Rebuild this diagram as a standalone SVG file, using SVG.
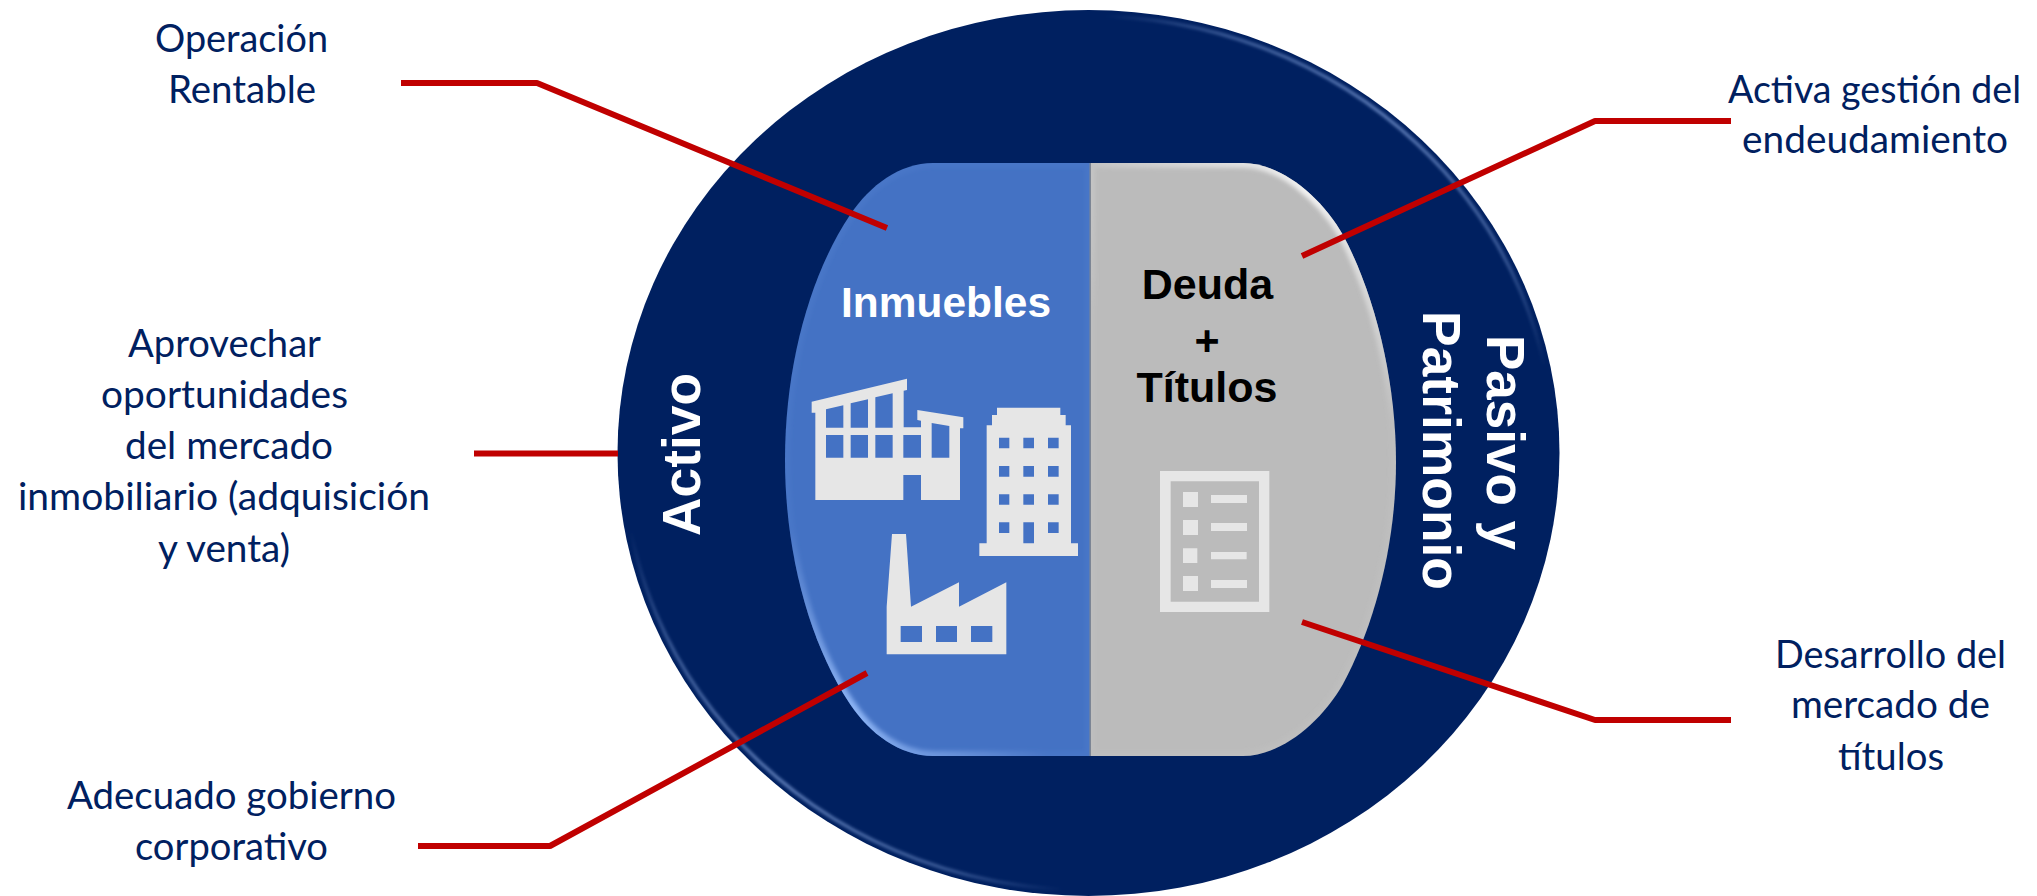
<svg xmlns="http://www.w3.org/2000/svg" width="2037" height="896" viewBox="0 0 2037 896">
<style>
.lb{font-family:"Lato","Open Sans",sans-serif;font-size:39.5px;fill:#002060}
.bd{font-family:"Liberation Sans",Arial,sans-serif;font-weight:bold}
.cn{fill:none;stroke:#C00000;stroke-width:6;stroke-linejoin:bevel}
.ic{fill:#E6E6E6;fill-rule:evenodd}
</style>
<defs>
<filter id="b2" x="-10%" y="-10%" width="120%" height="120%"><feGaussianBlur stdDeviation="2"/></filter>
<filter id="b1" x="-10%" y="-10%" width="120%" height="120%"><feGaussianBlur stdDeviation="1.6"/></filter>
<radialGradient id="rimTR" gradientUnits="userSpaceOnUse" cx="1390" cy="110" r="300"><stop offset="0" stop-color="#5E7DB8" stop-opacity=".95"/><stop offset=".6" stop-color="#5E7DB8" stop-opacity=".6"/><stop offset="1" stop-color="#5E7DB8" stop-opacity="0"/></radialGradient>
<radialGradient id="rimBL" gradientUnits="userSpaceOnUse" cx="780" cy="790" r="300"><stop offset="0" stop-color="#5E7DB8" stop-opacity=".95"/><stop offset=".6" stop-color="#5E7DB8" stop-opacity=".6"/><stop offset="1" stop-color="#5E7DB8" stop-opacity="0"/></radialGradient>
<radialGradient id="blueHi" gradientUnits="userSpaceOnUse" cx="862" cy="705" r="190"><stop offset="0" stop-color="#8FB6F6"/><stop offset=".5" stop-color="#7FA6E8" stop-opacity=".65"/><stop offset="1" stop-color="#7FA6E8" stop-opacity=".08"/></radialGradient>
<radialGradient id="grayHi" gradientUnits="userSpaceOnUse" cx="1305" cy="195" r="240"><stop offset="0" stop-color="#F2F2F2"/><stop offset=".6" stop-color="#DDDDDD" stop-opacity=".7"/><stop offset="1" stop-color="#DDDDDD" stop-opacity=".1"/></radialGradient>
<clipPath id="ce"><ellipse cx="1088.5" cy="453" rx="471" ry="443"/></clipPath>
<clipPath id="cb"><path d="M1090 163H933C900 163 870 185 850 215C810 275 785 365 785 460C785 554 810 644 850 704C870 734 900 756 933 756H1090Z"/></clipPath>
<clipPath id="cg"><path d="M1090 163H1243C1280 163 1320 195 1343 235C1375 295 1396 380 1396 462C1396 544 1375 624 1343 684C1320 724 1280 756 1243 756H1090Z"/></clipPath>
</defs>
<rect width="2037" height="896" fill="#FFFFFF"/>
<g id="outer-circle">
<ellipse cx="1088.5" cy="453" rx="471" ry="443" fill="#002060"/>
<g clip-path="url(#ce)" filter="url(#b1)" fill="none" stroke-width="3.5">
<ellipse cx="1088.5" cy="453" rx="465" ry="437" stroke="url(#rimTR)"/>
<ellipse cx="1088.5" cy="453" rx="465" ry="437" stroke="url(#rimBL)"/>
</g>
</g>
<g id="activo-panel">
<path d="M1090 163H933C900 163 870 185 850 215C810 275 785 365 785 460C785 554 810 644 850 704C870 734 900 756 933 756H1090Z" fill="#4472C4"/>
<g clip-path="url(#cb)"><path d="M1090 163H933C900 163 870 185 850 215C810 275 785 365 785 460C785 554 810 644 850 704C870 734 900 756 933 756H1090Z" fill="none" stroke="url(#blueHi)" stroke-width="10" filter="url(#b2)"/></g>
<path class="ic" d="M155 785L441 716V750L431 752V862H483V842L472 840V810L610 832V865H600V1080H483V1005H430V1080H166V818H155ZM198 808V863H250V796ZM272 790V863H324V778ZM346 772V863H398V760ZM515 849V953H568V858ZM198 885V953H250V885ZM272 885V953H324V885ZM346 885V953H398V885ZM430 885V953H483V885Z" transform="translate(760 140) scale(.33333)"/>
<path class="ic" d="M711 803H901V825H917V856H933V1210H954V1248H658V1210H680V856H696V825H711ZM717 893V925H748V893ZM790 893V925H822V893ZM864 893V925H896V893ZM717 978V1010H748V978ZM790 978V1010H822V978ZM864 978V1010H896V978ZM717 1063V1094H748V1063ZM790 1063V1094H822V1063ZM864 1063V1094H896V1063ZM717 1147V1179H748V1147ZM790 1147V1210H822V1147ZM864 1147V1179H896V1147Z" transform="translate(760 140) scale(.33333)"/>
<path class="ic" d="M396 162H438L453 380L597 307V380L739 307V523H380V380ZM422 438V486H486V438ZM528 438V486H591V438ZM633 438V486H697V438Z" transform="translate(760 480) scale(.33333)"/>
<text class="bd" x="841" y="317" font-size="43" fill="#FFFFFF" textLength="210" lengthAdjust="spacingAndGlyphs">Inmuebles</text>
</g>
<g id="pasivo-panel">
<path d="M1090 163H1243C1280 163 1320 195 1343 235C1375 295 1396 380 1396 462C1396 544 1375 624 1343 684C1320 724 1280 756 1243 756H1090Z" fill="#BBBBBB"/>
<g clip-path="url(#cg)"><path d="M1090 163H1243C1280 163 1320 195 1343 235C1375 295 1396 380 1396 462C1396 544 1375 624 1343 684C1320 724 1280 756 1243 756H1090Z" fill="none" stroke="url(#grayHi)" stroke-width="10" filter="url(#b2)"/></g>
<rect x="1089.5" y="163" width="1.5" height="593" fill="#7C8594"/>
<path class="ic" d="M210 93H538V516H210ZM242 124V485H507V124ZM279 156H324V201H279ZM279 240H324V285H279ZM279 325H322V369H279ZM279 408H324V453H279ZM363 165H471V189H363ZM363 249H471V273H363ZM363 336H470V358H363ZM363 420H471V444H363Z" transform="translate(1090 440) scale(.33333)"/>
<g class="bd" font-size="43" fill="#000000" text-anchor="middle">
<text x="1207.5" y="299">Deuda</text>
<text x="1207" y="355">+</text>
<text x="1207" y="402">Títulos</text>
</g>
</g>
<g id="activo-label"><text class="bd" font-size="54" fill="#FFFFFF" transform="translate(700 536) rotate(-90)" textLength="163" lengthAdjust="spacingAndGlyphs">Activo</text></g>
<g id="pasivo-label" class="bd" font-size="53" fill="#FFFFFF">
<text transform="translate(1487 335) rotate(90)" textLength="215" lengthAdjust="spacingAndGlyphs">Pasivo y</text>
<text transform="translate(1423 311) rotate(90)" textLength="279" lengthAdjust="spacingAndGlyphs">Patrimonio</text>
</g>
<g id="connectors">
<path class="cn" d="M401 83H537L887 228"/>
<path class="cn" d="M474 453.5H618"/>
<path class="cn" d="M418 846H550L867 673"/>
<path class="cn" d="M1731 121H1595L1302 256"/>
<path class="cn" d="M1731 720H1595L1302 622"/>
</g>
<g id="label-operacion" class="lb"><text x="155" y="52" textLength="173" lengthAdjust="spacingAndGlyphs">Operación</text><text x="168" y="103" textLength="148" lengthAdjust="spacingAndGlyphs">Rentable</text></g>
<g id="label-aprovechar" class="lb"><text x="128" y="357" textLength="193" lengthAdjust="spacingAndGlyphs">Aprovechar</text><text x="101" y="408" textLength="247" lengthAdjust="spacingAndGlyphs">oportunidades</text><text x="125" y="459" textLength="208" lengthAdjust="spacingAndGlyphs">del mercado</text><text x="18" y="510" textLength="412" lengthAdjust="spacingAndGlyphs">inmobiliario (adquisición</text><text x="158" y="562" textLength="132" lengthAdjust="spacingAndGlyphs">y venta)</text></g>
<g id="label-gobierno" class="lb"><text x="67" y="809" textLength="329" lengthAdjust="spacingAndGlyphs">Adecuado gobierno</text><text x="135" y="860" textLength="193" lengthAdjust="spacingAndGlyphs">corporativo</text></g>
<g id="label-gestion" class="lb"><text x="1728" y="103" textLength="293" lengthAdjust="spacingAndGlyphs">Activa gestión del</text><text x="1742" y="153" textLength="266" lengthAdjust="spacingAndGlyphs">endeudamiento</text></g>
<g id="label-desarrollo" class="lb"><text x="1775" y="668" textLength="231" lengthAdjust="spacingAndGlyphs">Desarrollo del</text><text x="1791" y="718" textLength="199" lengthAdjust="spacingAndGlyphs">mercado de</text><text x="1838" y="770" textLength="106" lengthAdjust="spacingAndGlyphs">títulos</text></g>
</svg>
